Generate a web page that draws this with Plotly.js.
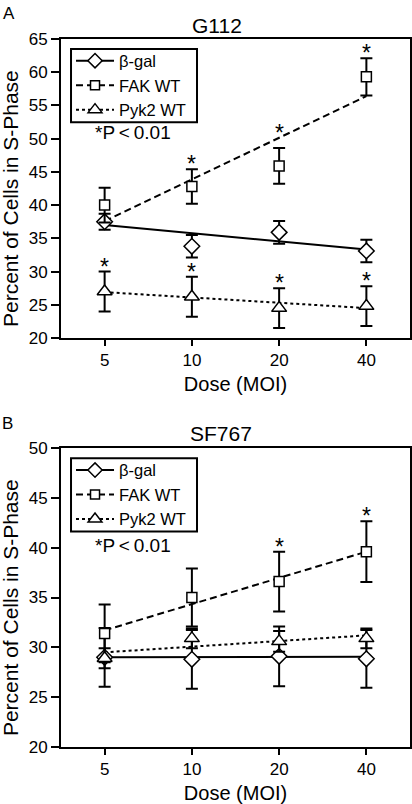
<!DOCTYPE html>
<html>
<head>
<meta charset="utf-8">
<script src="https://cdn.plot.ly/plotly-3.0.1.min.js"></script>
<style>
html,body{margin:0;padding:0;background:#fff;}
#chart{width:412px;height:804px;}
</style>
</head>
<body>
<div id="chart"></div>
<script>
// ---- data ----
var doses = ['5', '10', '20', '40'];
var seriesNames = ['β-gal', 'FAK WT', 'Pyk2 WT'];

// Panel A: G112
var bgalA = [37.5, 33.8, 35.9, 33.1];
var bgalAErr = [1.2, 1.7, 1.7, 1.7];
var fakA = [40.0, 42.8, 45.9, 59.3];
var fakAErr = [2.6, 2.6, 2.7, 2.8];
var pyk2A = [27.0, 26.2, 24.5, 24.8];
var pyk2AErr = [3.0, 3.0, 3.0, 3.0];
var bgalFitA = [37.0, 33.3];   // trend line at dose 5 and 40
var fakFitA = [37.6, 56.4];
var pyk2FitA = [26.9, 24.5];
var sigFakA = [0, 1, 1, 1];
var sigPyk2A = [1, 1, 1, 1];

// Panel B: SF767
var bgalB = [29.0, 28.8, 29.1, 28.85];
var bgalBErr = [2.95, 2.95, 3.0, 2.9];
var fakB = [31.4, 35.0, 36.6, 39.6];
var fakBErr = [2.9, 2.9, 3.0, 3.05];
var pyk2B = [28.9, 30.9, 30.6, 30.9];
var pyk2BErr = [1.0, 1.0, 1.05, 1.0];
var bgalFitB = [29.0, 29.05];
var fakFitB = [31.7, 39.6];
var pyk2FitB = [29.5, 31.2];
var sigFakB = [0, 0, 1, 1];
var sigPyk2B = [0, 0, 0, 0];

var panelTitles = ['G112', 'SF767'];
var panelLetters = ['A', 'B'];
var yTitle = 'Percent of Cells in S-Phase';
var xTitle = 'Dose (MOI)';
var pNote = '*P\u2009&lt;\u20090.01';

// ---- styles ----
var FONT = 'Liberation Sans, Arial, Helvetica, sans-serif';
var symbols = ['diamond', 'square', 'triangle-up'];
var sizes = [12, 10, 13];
var dashes = ['solid', '7px,4px', '3px,3px'];
var xi = doses.map(function(d, i){ return i; });

var traces = [];
function addPanel(vals, errs, fits, xa, ya, leg) {
  for (var s = 0; s < 3; s++) {
    traces.push({
      x: [0, doses.length - 1], y: fits[s], xaxis: xa, yaxis: ya,
      mode: 'lines', showlegend: false, hoverinfo: 'skip',
      line: {color: 'black', width: 2, dash: dashes[s]}
    });
  }
  for (var s = 0; s < 3; s++) {
    traces.push({
      x: xi, y: vals[s], xaxis: xa, yaxis: ya,
      mode: 'markers', showlegend: false,
      marker: {symbol: symbols[s], size: sizes[s], color: 'white', line: {color: 'black', width: 1.5}},
      error_y: {type: 'data', array: errs[s], visible: true, color: 'black', thickness: 2, width: 6}
    });
  }
  for (var s = 0; s < 3; s++) {
    traces.push({
      x: [null], y: [null], xaxis: xa, yaxis: ya, name: seriesNames[s], legend: leg,
      mode: 'lines+markers',
      line: {color: 'black', width: 2, dash: dashes[s]},
      marker: {symbol: symbols[s], size: sizes[s] - 1, color: 'white', line: {color: 'black', width: 1.5}}
    });
  }
}
addPanel([bgalA, fakA, pyk2A], [bgalAErr, fakAErr, pyk2AErr], [bgalFitA, fakFitA, pyk2FitA], 'x', 'y', 'legend');
addPanel([bgalB, fakB, pyk2B], [bgalBErr, fakBErr, pyk2BErr], [bgalFitB, fakFitB, pyk2FitB], 'x2', 'y2', 'legend2');

var annotations = [];
function fitAt(fit, i) { return fit[0] + (fit[1] - fit[0]) * i / (doses.length - 1); }
function addStars(sig, vals, errs, fit, xa, ya) {
  for (var i = 0; i < sig.length; i++) {
    if (!sig[i]) continue;
    var top = Math.max(vals[i] + errs[i], fitAt(fit, i));
    annotations.push({
      x: i, y: top, xref: xa, yref: ya, text: '*', showarrow: false,
      yanchor: 'bottom', yshift: -10, font: {family: FONT, size: 23, color: 'black'}
    });
  }
}
addStars(sigFakA, fakA, fakAErr, fakFitA, 'x', 'y');
addStars(sigPyk2A, pyk2A, pyk2AErr, pyk2FitA, 'x', 'y');
addStars(sigFakB, fakB, fakBErr, fakFitB, 'x2', 'y2');
addStars(sigPyk2B, pyk2B, pyk2BErr, pyk2FitB, 'x2', 'y2');

var titlePos = [[0.448, 1.019], [0.458, 0.4421]];
var letterPos = [[-0.172, 1.0523], [-0.175, 0.4732]];
var notePos = [[0.0917, 0.8681], [0.0917, 0.2853]];
var yTitlePos = [[-0.146, 0.774], [-0.146, 0.1963]];
for (var p = 0; p < 2; p++) {
  annotations.push({x: titlePos[p][0], y: titlePos[p][1], xref: 'paper', yref: 'paper', text: panelTitles[p],
    showarrow: false, xanchor: 'center', yanchor: 'middle', font: {family: FONT, size: 21, color: 'black'}});
  annotations.push({x: letterPos[p][0], y: letterPos[p][1], xref: 'paper', yref: 'paper', text: panelLetters[p],
    showarrow: false, xanchor: 'left', yanchor: 'top', font: {family: FONT, size: 17, color: 'black'}});
  annotations.push({x: notePos[p][0], y: notePos[p][1], xref: 'paper', yref: 'paper', text: pNote,
    showarrow: false, xanchor: 'left', yanchor: 'middle', font: {family: FONT, size: 19, color: 'black'}});
  annotations.push({x: yTitlePos[p][0], y: yTitlePos[p][1], xref: 'paper', yref: 'paper', text: yTitle,
    textangle: -90, showarrow: false, xanchor: 'center', yanchor: 'middle',
    font: {family: FONT, size: 21, color: 'black'}});
}

// legend frames
var frames = [[0.0287, 0.3897, 0.88234, 0.98588], [0.0287, 0.3897, 0.30424, 0.40777]];
var shapes = frames.map(function(f){
  return {type: 'rect', xref: 'paper', yref: 'paper', x0: f[0], x1: f[1], y0: f[2], y1: f[3],
    line: {color: 'black', width: 2}, fillcolor: 'rgba(0,0,0,0)', layer: 'above'};
});

function xAxis(anchor) {
  return {
    anchor: anchor, domain: [0, 1], range: [-0.5, 3.5],
    tickvals: xi, ticktext: doses, ticks: 'outside', ticklen: 6, tickwidth: 2, tickcolor: 'black',
    showgrid: false, zeroline: false,
    showline: true, mirror: true, linecolor: 'black', linewidth: 2,
    tickfont: {family: FONT, size: 17, color: 'black'},
    title: {text: xTitle, font: {family: FONT, size: 20, color: 'black'}, standoff: 8}
  };
}
function yAxis(anchor, dom, rng) {
  return {
    anchor: anchor, domain: dom, range: rng, dtick: 5, tick0: 20,
    ticks: 'outside', ticklen: 8, tickwidth: 2, tickcolor: 'black',
    showgrid: false, zeroline: false, showline: true, mirror: true, linecolor: 'black', linewidth: 2,
    tickfont: {family: FONT, size: 17, color: 'black'}
  };
}
function legendCfg(y) {
  return {x: 0.0287, y: y, xanchor: 'left', yanchor: 'top', bgcolor: 'rgba(0,0,0,0)',
    borderwidth: 0, font: {family: FONT, size: 16.5, color: 'black'},
    tracegroupgap: 0, itemwidth: 38, itemclick: false};
}

var layout = {
  width: 412, height: 804,
  margin: {l: 61, r: 2, t: 39, b: 57},
  paper_bgcolor: 'white', plot_bgcolor: 'white',
  font: {family: FONT, color: 'black'},
  showlegend: true,
  xaxis: xAxis('y'),
  yaxis: yAxis('x', [0.5777, 1], [20, 65]),
  xaxis2: xAxis('y2'),
  yaxis2: yAxis('x2', [0, 0.4223], [20, 50]),
  legend: legendCfg(0.99364),
  legend2: legendCfg(0.41554),
  shapes: shapes,
  annotations: annotations
};

Plotly.newPlot('chart', traces, layout, {displayModeBar: false, staticPlot: true});
</script>
</body>
</html>
